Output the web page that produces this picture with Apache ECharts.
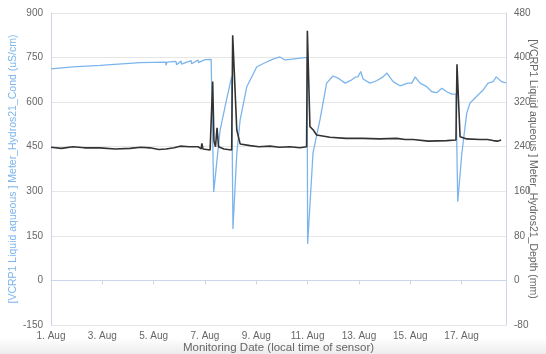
<!DOCTYPE html>
<html>
<head>
<meta charset="utf-8">
<script src="https://cdn.jsdelivr.net/npm/echarts@6/dist/echarts.min.js"></script>
<style>
    html, body { margin: 0; padding: 0; background: #fff; }
    #div_chart { width: 546px; height: 354px; }
</style>
</head>
<body>
<div id="div_chart"></div>
<script>
// days since 1 Aug 00:00 (local time of sensor)
var condDays = [0.00, 0.86, 1.91, 3.47, 4.47, 4.48, 4.52, 4.87, 4.89, 5.07, 5.09, 5.46, 5.48, 5.73, 5.75,
    6.00, 6.24, 6.34, 6.59, 6.82, 7.04, 7.09, 7.24, 7.37, 7.63, 8.02, 8.42, 8.65, 8.92, 9.12, 9.31,
    9.90, 9.98, 10.00, 10.21, 10.48, 10.74, 10.99, 11.18, 11.46, 11.72, 11.85, 11.96, 12.07, 12.16,
    12.43, 12.69, 12.94, 13.09, 13.33, 13.60, 13.91, 14.06, 14.19, 14.38, 14.64, 14.84, 15.03,
    15.23, 15.42, 15.62, 15.78, 15.85, 16.01, 16.20, 16.33, 16.64, 16.84, 17.03, 17.23, 17.35,
    17.56, 17.73];
var condValues = [712, 719, 724, 733, 735, 724, 735, 737, 726, 738, 728, 740, 729, 742, 733,
    743, 744, 298, 506, 600, 686, 173, 428, 540, 652, 719, 736, 745, 752, 742, 744,
    750, 750, 123, 429, 540, 664, 688, 681, 664, 675, 684, 685, 703, 678,
    664, 672, 685, 698, 669, 655, 664, 664, 685, 664, 652, 635, 632,
    647, 635, 627, 627, 265, 429, 563, 597, 624, 641, 664, 669, 685,
    669, 665];

var depthDays = [0.00, 0.40, 0.86, 1.30, 1.91, 2.50, 3.08, 3.50, 3.86, 4.20, 4.48, 4.80, 5.03, 5.40,
    5.73, 5.85, 5.88, 5.92, 6.20, 6.27, 6.30, 6.35, 6.41, 6.47, 6.53, 6.74, 7.04, 7.08, 7.24, 7.37,
    7.76, 8.10, 8.53, 8.90, 9.31, 9.70, 9.96, 9.99, 10.09, 10.22, 10.35, 10.87, 11.50, 12.16,
    12.80, 13.47, 13.80, 14.11, 14.70, 15.42, 15.78, 15.82, 15.94, 16.20, 16.72, 17.00, 17.23,
    17.40, 17.54];
var depthValues = [239, 237, 240, 238, 238, 236, 237, 239, 238, 235, 236, 238, 241, 240,
    240, 236, 246, 236, 234, 236, 357, 250, 240, 274, 240, 236, 234, 440, 270, 245,
    242, 240, 241, 239, 240, 238, 240, 448, 276, 270, 261, 257, 255, 255,
    254, 255, 253, 253, 250, 251, 252, 388, 258, 254, 253, 253, 251,
    250, 252];

var xTickStep = 2;
var condTicks = [-150, 900, 150];
var depthTicks = [-80, 480, 80];

function pairs(xs, ys) {
    var out = [];
    for (var i = 0; i < xs.length; i++) {
        out.push([xs[i], ys[i]]);
    }
    return out;
}

var labelStyle = { color: '#666666', fontSize: 10, fontFamily: 'Liberation Sans' };

var myChart = echarts.init(document.getElementById('div_chart'));
var option = {
    animation: false,
    backgroundColor: '#ffffff',
    // grey band under the chart
    graphic: [{
        type: 'rect',
        left: 0, top: 338, z: -10,
        shape: { width: 546, height: 16 },
        style: {
            fill: new echarts.graphic.LinearGradient(0, 0, 0, 1, [
                { offset: 0, color: '#ffffff' },
                { offset: 1, color: '#ececec' }
            ])
        }
    }],
    grid: { left: 51, right: 40, top: 13, bottom: 29, outerBoundsMode: 'none', containLabel: false },
    xAxis: {
        type: 'value',
        min: 0,
        max: 17.73,
        interval: xTickStep,
        name: 'Monitoring Date (local time of sensor)',
        nameLocation: 'middle',
        nameGap: 17,
        nameMoveOverlap: false,
        nameTextStyle: { color: '#666666', fontSize: 11.5, fontFamily: 'Liberation Sans' },
        axisLine: { lineStyle: { color: '#ccd6eb' } },
        axisTick: { length: 4, lineStyle: { color: '#ccd6eb' } },
        splitLine: { show: false },
        axisLabel: Object.assign({
            margin: 6,
            showMaxLabel: false,
            formatter: function (v) { return (v + 1) + '. Aug'; }
        }, labelStyle)
    },
    yAxis: [{
        type: 'value',
        position: 'left',
        min: condTicks[0], max: condTicks[1], interval: condTicks[2],
        name: '[VCRP1 Liquid aqueous ] Meter_Hydros21_Cond (uS/cm)',
        nameLocation: 'middle',
        nameRotate: 90,
        nameGap: 32,
        nameMoveOverlap: false,
        nameTextStyle: { color: '#7cb5ec', fontSize: 10.5, fontFamily: 'Liberation Sans' },
        axisLine: { show: true, lineStyle: { color: '#ccd6eb' } },
        axisTick: { show: false },
        splitLine: { lineStyle: { color: '#e6e6e6' } },
        axisLabel: Object.assign({ margin: 8 }, labelStyle)
    }, {
        type: 'value',
        position: 'right',
        min: depthTicks[0], max: depthTicks[1], interval: depthTicks[2],
        name: '[VCRP1 Liquid aqueous ] Meter_Hydros21_Depth (mm)',
        nameLocation: 'middle',
        nameRotate: -90,
        nameGap: 21,
        nameMoveOverlap: false,
        nameTextStyle: { color: '#666666', fontSize: 10.5, fontFamily: 'Liberation Sans' },
        axisLine: { show: true, lineStyle: { color: '#ccd6eb' } },
        axisTick: { show: false },
        splitLine: { show: false },
        axisLabel: Object.assign({ margin: 8 }, labelStyle)
    }],
    series: [{
        name: 'Cond',
        type: 'line',
        yAxisIndex: 0,
        showSymbol: false,
        data: pairs(condDays, condValues),
        lineStyle: { color: '#7cb5ec', width: 1.3 },
        itemStyle: { color: '#7cb5ec' }
    }, {
        name: 'Depth',
        type: 'line',
        yAxisIndex: 1,
        showSymbol: false,
        data: pairs(depthDays, depthValues),
        lineStyle: { color: '#333333', width: 1.6 },
        itemStyle: { color: '#333333' }
    }]
};
myChart.setOption(option);
</script>
</body>
</html>
